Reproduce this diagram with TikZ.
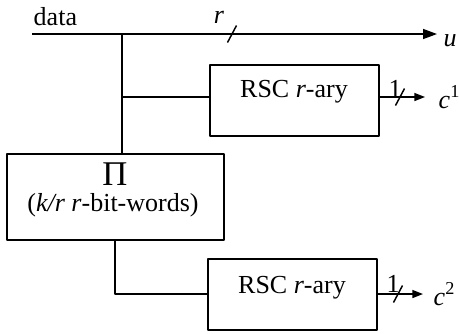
\documentclass[tikz,border=0pt]{standalone}
\usepackage{fontspec}
\setmainfont{Liberation Serif}
\usetikzlibrary{arrows.meta}
\begin{document}
\begin{tikzpicture}[x=0.75pt,y=-0.75pt,font=\fontsize{19.5}{23}\selectfont,line join=round,line width=1.1pt,
	box/.style={draw,line width=1.1pt,inner sep=0pt,minimum width=126.75pt,minimum height=53.25pt},
	lab/.style={inner sep=0pt},
	bigtip/.style={-{Triangle[length=10.5pt,width=7.5pt]}},
	smalltip/.style={-{Triangle[length=8pt,width=6pt]}}]
	%Khung hình.
	\useasboundingbox (0,0) rectangle (459,333);
	%Tọa độ.
	\coordinate (in) at (32,34);
	\coordinate (out) at (437,34);
	\coordinate (split) at (122,34);
	\coordinate (branch) at (122,97);
	\coordinate (turn) at (115,294);
	\coordinate (c1) at (425,97);
	\coordinate (c2) at (423,294);
	%Các khối.
	\node[box] (rsc1) at (294.5,100.5) {};
	\node[box] (rsc2) at (292.5,294.5) {};
	\node[box,minimum width=162.75pt,minimum height=64.5pt] (pibox) at (115.5,197) {};
	%Chữ trong khối.
	\node[lab,anchor=base] (rsc1txt) at (294,97) {RSC \textit{r}-ary};
	\node[lab,anchor=base] (rsc2txt) at (292,293) {RSC \textit{r}-ary};
	\node[lab,anchor=base,font=\fontsize{26}{28}\selectfont] (pitxt) at (115,185) {Π};
	\node[lab,anchor=base] (wordstxt) at (113,211) {(\textit{k/r r}-bit-words)};
	%Nhãn.
	\node[lab,anchor=base west] (data) at (33,25) {data};
	\node[lab,anchor=base] (rlab) at (219,23) {\textit{r}};
	\node[lab,anchor=base west] (u) at (443,46) {\textit{u}};
	\node[lab,anchor=base] (one1) at (395,97) {1};
	\node[lab,anchor=base] (one2) at (393,292) {1};
	\node[lab,anchor=base west] (c1lab) at (438,108) {\textit{c}\textsuperscript{1}};
	\node[lab,anchor=base west] (c2lab) at (433,305) {\textit{c}\textsuperscript{2}};
	%Đường nối.
	\draw[bigtip] (in) -- (out);
	\draw (split) -- (split |- pibox.north);
	\draw (branch) -- (branch -| rsc1.west);
	\draw (turn |- pibox.south) -- (turn) -- (turn -| rsc2.west);
	\draw[smalltip] (c1 -| rsc1.east) -- (c1);
	\draw[smalltip] (c2 -| rsc2.east) -- (c2);
	%Vạch chéo.
	\foreach \p in {(232,34),(400,97),(398,294)}{
		\draw \p ++(-4.5,8.5) -- ++(9,-17);
	}
\end{tikzpicture}
\end{document}
